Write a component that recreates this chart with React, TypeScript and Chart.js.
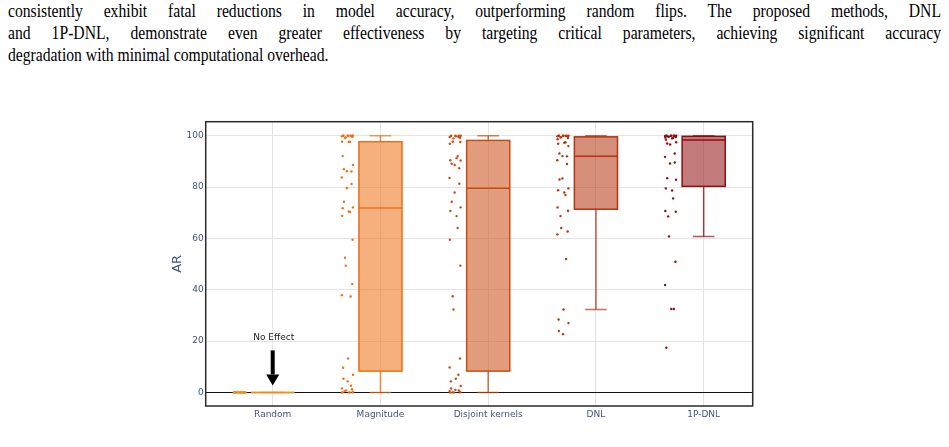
import React, { useEffect, useRef } from "react";
import { Chart, registerables } from "chart.js";

Chart.register(...registerables);

// Methods compared, left to right
const categories = ["Random", "Magnitude", "Disjoint kernels", "DNL", "1P-DNL"];
const yTicks = [0, 20, 40, 60, 80, 100];

// Box statistics per method (AR, %)
const lowerWhisker = [0, 0, 0, 32.3, 60.8];
const q1 = [0, 8.3, 8.3, 71.4, 80.3];
const median = [0, 71.9, 79.6, 92.0, 98.4];
const q3 = [0, 97.7, 98.2, 99.6, 99.8];
const upperWhisker = [0, 100, 100, 100, 100];

// Individual runs shown next to each box
const randomRuns = [0, 0, 0, 0, 0, 0, 0, 0, 0, 0, 0, 0, 0, 0, 0, 0, 0, 0, 0, 0, 0, 0];
const magnitudeRuns = [
  100, 100, 100, 100, 100, 100, 99.9, 99.8, 99.6, 99.4, 99.2, 100, 97.7, 97.7, 97.6,
  92.1, 88.6, 87.0, 86.2, 86.1, 83.8, 81.2, 79.6, 74.3, 72.1, 71.8, 70.5, 70.3, 68.8,
  59.5, 52.5, 49.4, 42.2, 37.9, 37.4, 13.2, 9.6, 6.9, 5.3, 4.3, 2.6, 1.5, 1.2, 0.8,
  0.5, 0.3, 0, 0, 0, 0, 0,
];
const disjointRuns = [
  100, 100, 100, 100, 99.9, 99.8, 99.6, 99.5, 99.2, 99.0, 97.7, 97.6, 96.9, 92.1,
  91.3, 90.5, 90.4, 89.1, 88.6, 87.4, 83.6, 81.3, 77.9, 74.3, 72.1, 70.7, 68.7, 64.1,
  59.5, 49.4, 37.5, 32.3, 13.2, 9.7, 6.9, 5.3, 4.3, 2.5, 1.5, 1.0, 0.8, 0.5, 0.3, 0,
  0, 0, 0,
];
const dnlRuns = [
  100, 100, 100, 100, 100, 100, 99.9, 99.8, 99.7, 99.5, 99.3, 99.1, 98.7, 97.5, 97.3,
  96.9, 96.0, 93.1, 92.1, 92.0, 90.5, 89.0, 83.4, 83.0, 79.5, 78.8, 77.9, 76.9, 72.1,
  70.8, 68.7, 64.1, 62.7, 61.6, 52.0, 32.3, 28.4, 27.0, 23.9, 22.7,
];
const oneShotDnlRuns = [
  100, 100, 100, 100, 100, 100, 100, 99.9, 99.8, 99.7, 99.6, 99.5, 99.3, 99.2, 99.0,
  98.5, 97.5, 97.0, 96.6, 93.1, 91.8, 89.6, 89.2, 83.5, 82.9, 79.5, 78.7, 75.6, 70.7,
  70.4, 68.6, 60.8, 50.9, 41.9, 32.5, 32.5, 17.4,
];
const runs = [randomRuns, magnitudeRuns, disjointRuns, dnlRuns, oneShotDnlRuns];

const lineColors = ["#f68a1f", "#ec7014", "#c94c12", "#b5330f", "#900d0f"];
const fillColors = [
  "rgba(246,138,31,0.55)",
  "rgba(236,112,20,0.55)",
  "rgba(201,76,18,0.55)",
  "rgba(181,51,15,0.55)",
  "rgba(144,13,15,0.55)",
];

const FONT = "'DejaVu Sans', Verdana, sans-serif";
const TICK_COLOR = "#44557a";

// points sit to the left of each box, spread a little sideways
const pointOffset = (j: number) => -0.307 + 0.052 * Math.sin(j * 2.39996 + 0.7);

const boxPlugin = {
  id: "boxes",
  beforeDatasetsDraw(chart: any) {
    const { ctx } = chart;
    const xs = chart.scales.x;
    const ys = chart.scales.y;
    categories.forEach((_, i) => {
      const cx = xs.getPixelForValue(i);
      const half = xs.getPixelForValue(i + 0.2) - cx;
      const capHalf = xs.getPixelForValue(i + 0.1) - cx;
      const yLo = ys.getPixelForValue(lowerWhisker[i]);
      const yQ1 = ys.getPixelForValue(q1[i]);
      const yMed = ys.getPixelForValue(median[i]);
      const yQ3 = ys.getPixelForValue(q3[i]);
      const yHi = ys.getPixelForValue(upperWhisker[i]);
      ctx.save();
      ctx.lineWidth = 1.5;
      ctx.strokeStyle = lineColors[i];
      // whiskers
      ctx.globalAlpha = 0.8;
      ctx.beginPath();
      ctx.moveTo(cx, yQ1);
      ctx.lineTo(cx, yLo);
      ctx.moveTo(cx, yQ3);
      ctx.lineTo(cx, yHi);
      ctx.stroke();
      ctx.globalAlpha = 0.7;
      ctx.beginPath();
      ctx.moveTo(cx - capHalf, yLo);
      ctx.lineTo(cx + capHalf, yLo);
      ctx.moveTo(cx - capHalf, yHi);
      ctx.lineTo(cx + capHalf, yHi);
      ctx.stroke();
      ctx.globalAlpha = 1;
      // box
      ctx.fillStyle = fillColors[i];
      ctx.fillRect(cx - half, yQ3, half * 2, yQ1 - yQ3);
      ctx.strokeRect(cx - half, yQ3, half * 2, yQ1 - yQ3);
      // median
      ctx.beginPath();
      ctx.moveTo(cx - half, yMed);
      ctx.lineTo(cx + half, yMed);
      ctx.stroke();
      ctx.restore();
    });
  },
  afterDatasetsDraw(chart: any) {
    const { ctx, chartArea } = chart;
    const xs = chart.scales.x;
    const ys = chart.scales.y;
    // "No Effect" annotation arrow pointing at Random's box
    const ax = xs.getPixelForValue(0);
    const tip = ys.getPixelForValue(0) - 7;
    const tail = tip - 35;
    ctx.save();
    ctx.fillStyle = "#000";
    ctx.fillRect(ax - 2, tail, 4, 24);
    ctx.beginPath();
    ctx.moveTo(ax - 6.5, tip - 11);
    ctx.lineTo(ax + 6.5, tip - 11);
    ctx.lineTo(ax, tip);
    ctx.closePath();
    ctx.fill();
    ctx.font = `9px ${FONT}`;
    ctx.fillStyle = "#222";
    ctx.textAlign = "center";
    ctx.textBaseline = "middle";
    ctx.fillText("No Effect", ax + 1, tail - 13);
    // frame around the plot
    ctx.strokeStyle = "#2a2a2a";
    ctx.lineWidth = 1.5;
    ctx.strokeRect(chartArea.left, chartArea.top, chartArea.right - chartArea.left, chartArea.bottom - chartArea.top);
    ctx.restore();
  },
};

function BoxChart() {
  const ref = useRef<HTMLCanvasElement | null>(null);
  useEffect(() => {
    if (!ref.current) return;
    const datasets = runs.map((vals, i) => ({
      label: categories[i],
      data: vals.map((v, j) => ({ x: i + pointOffset(j), y: v })),
      backgroundColor: lineColors[i],
      borderWidth: 0,
      pointRadius: 1.2,
      pointHoverRadius: 1.2,
    }));
    const chart = new Chart(ref.current, {
      type: "scatter",
      data: { datasets },
      plugins: [boxPlugin],
      options: {
        animation: false,
        responsive: false,
        devicePixelRatio: 1,
        layout: { padding: { top: 11.7, right: 47.3, left: 0, bottom: 0 } },
        plugins: { legend: { display: false }, tooltip: { enabled: false } },
        scales: {
          x: {
            type: "linear",
            min: -0.622,
            max: 4.455,
            afterBuildTicks: (s: any) => {
              s.ticks = categories.map((_, i) => ({ value: i }));
            },
            afterFit: (s: any) => {
              s.height = 19;
            },
            ticks: {
              autoSkip: false,
              maxRotation: 0,
              padding: 3,
              color: TICK_COLOR,
              font: { family: FONT, size: 9 },
              callback: (v: any) => categories[Math.round(Number(v))] ?? "",
            },
            grid: { color: "#e4e4e4", lineWidth: 1, drawTicks: false },
            border: { display: false },
          },
          y: {
            type: "linear",
            min: -5.3,
            max: 105.5,
            afterBuildTicks: (s: any) => {
              s.ticks = yTicks.map((v) => ({ value: v }));
            },
            afterFit: (s: any) => {
              s.width = 55.7;
            },
            ticks: {
              padding: 2,
              color: TICK_COLOR,
              font: { family: FONT, size: 9 },
            },
            grid: {
              color: (c: any) => (c.tick && c.tick.value === 0 ? "#111" : "#e4e4e4"),
              lineWidth: 1,
              drawTicks: false,
            },
            border: { display: false },
            title: {
              display: true,
              text: "AR",
              color: TICK_COLOR,
              font: { family: FONT, size: 13 },
              padding: { top: 20.3, bottom: 0 },
            },
          },
        },
      },
    } as any);
    return () => chart.destroy();
  }, []);
  return (
    <canvas
      ref={ref}
      width={650}
      height={315}
      style={{ position: "absolute", left: 150, top: 110, width: 650, height: 315 }}
    />
  );
}

const bodyLines = [
  "consistently exhibit fatal reductions in model accuracy, outperforming random flips.  The proposed methods, DNL",
  "and 1P-DNL, demonstrate even greater effectiveness by targeting critical parameters, achieving significant accuracy",
  "degradation with minimal computational overhead.",
];

// paragraph text is set in a narrow serif face
const TEXT_SCALE_X = 0.87;

export default function App() {
  return (
    <div
      style={{
        position: "absolute",
        left: 0,
        top: 0,
        width: 949,
        height: 447,
        background: "#fff",
        overflow: "hidden",
      }}
    >
      <div
        style={{
          position: "absolute",
          left: 8,
          top: 0,
          width: 933 / TEXT_SCALE_X,
          transform: `scaleX(${TEXT_SCALE_X})`,
          transformOrigin: "0 0",
          fontFamily: "'Liberation Serif', 'Times New Roman', serif",
          fontSize: 18,
          lineHeight: "22px",
          color: "#000",
        }}
      >
        {bodyLines.map((t, i) => (
          <div
            key={i}
            style={{
              textAlign: "justify",
              textAlignLast: i < bodyLines.length - 1 ? "justify" : "left",
            }}
          >
            {t}
          </div>
        ))}
      </div>
      <BoxChart />
    </div>
  );
}
